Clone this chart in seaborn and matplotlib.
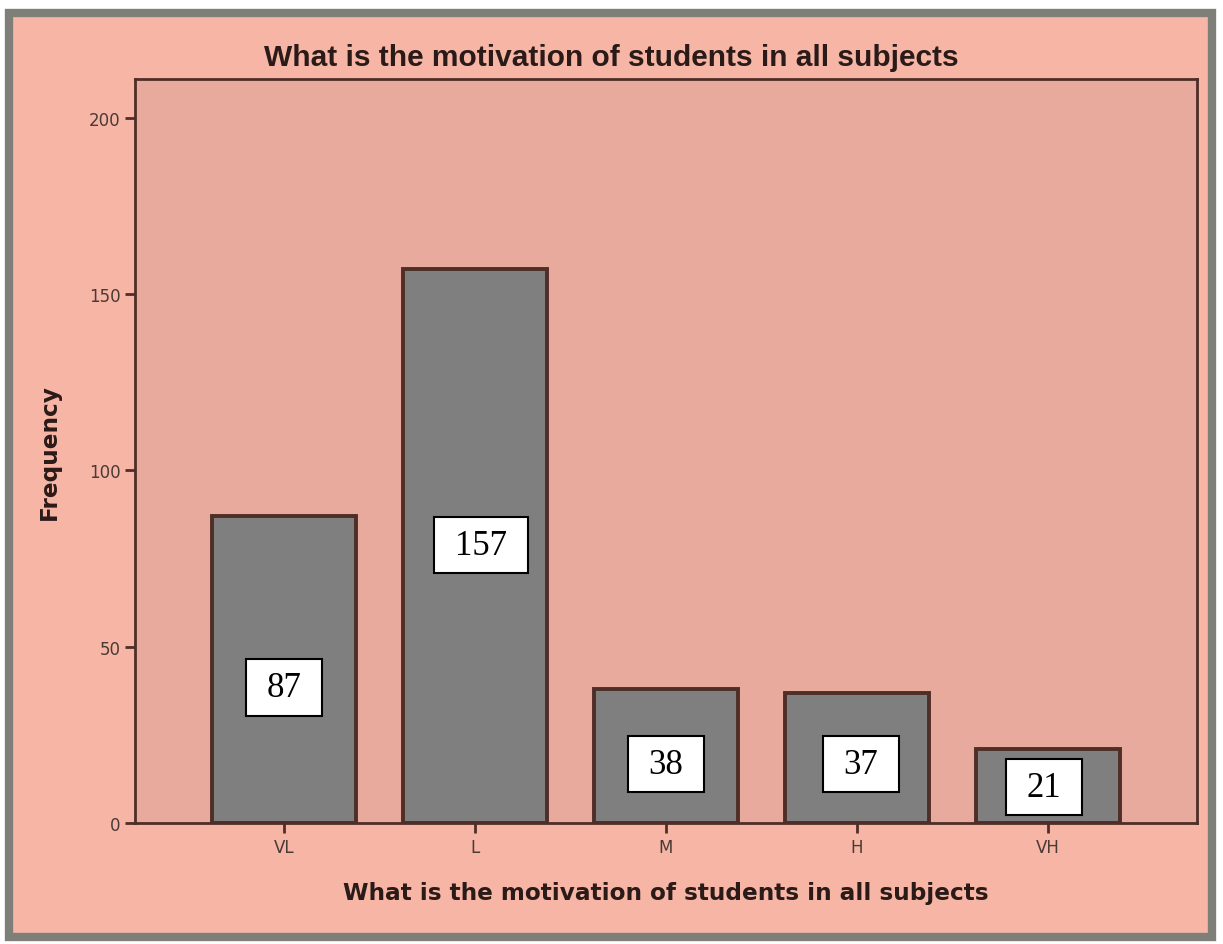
import matplotlib
matplotlib.use("Agg")
import matplotlib.pyplot as plt
from matplotlib.patches import Rectangle
from matplotlib.path import Path
import seaborn as sns
import pandas as pd

# data
levels = ['VL', 'L', 'M', 'H', 'VH']
freq = [87, 157, 38, 37, 21]
# where the boxed counts sit (category index, frequency units)
label_x = [0.0, 1.03, 2.0, 3.02, 3.98]
label_y = [38.5, 78.8, 16.7, 16.7, 10.2]

outer_bg = '#f6b5a5'
inner_bg = '#e8aa9c'
frame_col = '#7d7f78'
dark = '#4e2e27'
bar_col = '#7f7f7f'


def wide_box(x0, y0, width, height, mutation_size):
    # rectangle with more room left/right than top/bottom, like the pasted text boxes
    px, py = 0.6 * mutation_size, 0.34 * mutation_size
    x0, x1 = x0 - px, x0 + width + px
    y0, y1 = y0 - py, y0 + height + py
    return Path([(x0, y0), (x1, y0), (x1, y1), (x0, y1), (x0, y0)], closed=True)


df = pd.DataFrame({'level': levels, 'freq': freq})

fig = plt.figure(figsize=(12.23, 9.45), dpi=100)
fig.patch.set_facecolor('white')
fig.patches.append(Rectangle((9/1223, 7/945), 1203/1223, 924/945, transform=fig.transFigure,
                             facecolor=outer_bg, edgecolor=frame_col, linewidth=6, zorder=-5))

ax = fig.add_axes([135/1223, 1-824/945, (1197-135)/1223, (824-80)/945])
ax.set_zorder(2)
ax.set_facecolor(inner_bg)
sns.barplot(data=df, x='level', y='freq', ax=ax, color=bar_col, width=0.755,
            edgecolor=dark, linewidth=2.8, saturation=1)

for xv, yv, v in zip(label_x, label_y, freq):
    ax.text(xv, yv, str(v), ha='center', va='center', fontsize=25, family='Liberation Serif',
            bbox=dict(boxstyle=wide_box, facecolor='white', edgecolor='black', linewidth=1.5))

ax.set_xlim(-0.78, 4.78)
ax.set_ylim(0, 211)
ax.set_yticks([0, 50, 100, 150, 200])
for s in ax.spines.values():
    s.set_color(dark)
    s.set_linewidth(2)
ax.tick_params(axis='both', colors=dark, labelcolor='#4a3a36', length=7, width=2, labelsize=12)
ax.set_xlabel('What is the motivation of students in all subjects', fontsize=16.7, fontweight='bold',
              color='#2a1a18', labelpad=18, family='DejaVu Sans')
ax.set_ylabel('Frequency', fontsize=16.7, fontweight='bold', color='#2a1a18', labelpad=20, family='DejaVu Sans')
fig.text(0.5, 1-58/945, 'What is the motivation of students in all subjects', ha='center', va='center',
         fontsize=21.5, fontweight='bold', color='#2a1a18', family='Liberation Sans')

fig.savefig('out.png', dpi=100, facecolor=fig.get_facecolor())
